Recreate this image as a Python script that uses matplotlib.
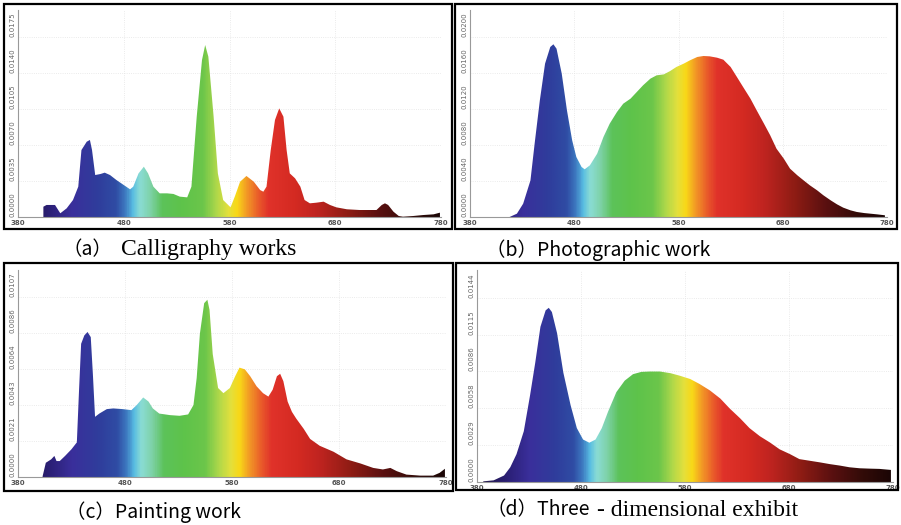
import numpy as np
import matplotlib
matplotlib.use("Agg")
import matplotlib.pyplot as plt
from matplotlib.colors import LinearSegmentedColormap
from matplotlib.patches import Rectangle

# --- data (wavelength nm, spectral power) ---
wl_a = [404, 407, 415, 420, 426, 432, 437, 440, 445, 448, 450, 453, 458, 462, 467, 473,
        480, 486, 489, 494, 499, 503, 508, 514, 521, 527, 533, 540, 544, 549, 554, 557,
        560, 565, 569, 574, 581, 585, 590, 596, 603, 609, 612, 615, 619, 623, 627, 631,
        634, 637, 642, 647, 651, 656, 662, 669, 675, 681, 691, 703, 713, 719, 724, 727,
        730, 735, 740, 744, 754, 763, 773, 779]
spd_a = [0.00100, 0.00117, 0.00117, 0.00036, 0.00084, 0.00165, 0.00295, 0.00651, 0.00732,
         0.00749, 0.00651, 0.00408, 0.00418, 0.00431, 0.00408, 0.00360, 0.00311, 0.00269,
         0.00295, 0.00424, 0.00489, 0.00424, 0.00295, 0.00230, 0.00230, 0.00224, 0.00198,
         0.00191, 0.00295, 0.00975, 0.01526, 0.01672, 0.01559, 0.00975, 0.00424, 0.00165,
         0.00094, 0.00198, 0.00343, 0.00399, 0.00343, 0.00262, 0.00246, 0.00295, 0.00651,
         0.00943, 0.01056, 0.00975, 0.00651, 0.00424, 0.00376, 0.00295, 0.00165, 0.00133,
         0.00139, 0.00149, 0.00117, 0.00094, 0.00075, 0.00068, 0.00068, 0.00068, 0.00117,
         0.00133, 0.00117, 0.00052, 0.00010, 0.00003, 0.00010, 0.00019, 0.00026, 0.00042]

wl_b = [418, 425, 431, 438, 442, 447, 452, 457, 460, 463, 468, 473, 478, 482, 487, 490,
        495, 502, 508, 514, 521, 527, 534, 540, 546, 553, 559, 566, 572, 578, 585, 591,
        598, 604, 610, 617, 623, 630, 636, 642, 649, 655, 662, 668, 674, 681, 687, 694,
        700, 706, 713, 719, 726, 732, 738, 745, 751, 758, 764, 770, 778]
spd_b = [0.00000, 0.00037, 0.00148, 0.00407, 0.00815, 0.01296, 0.01704, 0.01889, 0.01919,
         0.01870, 0.01593, 0.01185, 0.00852, 0.00667, 0.00556, 0.00530, 0.00574, 0.00704,
         0.00889, 0.01037, 0.01167, 0.01259, 0.01315, 0.01389, 0.01463, 0.01537, 0.01574,
         0.01585, 0.01622, 0.01667, 0.01704, 0.01741, 0.01778, 0.01789, 0.01785, 0.01770,
         0.01748, 0.01667, 0.01556, 0.01444, 0.01315, 0.01185, 0.01037, 0.00907, 0.00759,
         0.00648, 0.00537, 0.00463, 0.00407, 0.00352, 0.00296, 0.00241, 0.00185, 0.00141,
         0.00104, 0.00074, 0.00056, 0.00044, 0.00037, 0.00030, 0.00019]

wl_c = [403, 406, 411, 414, 416, 419, 424, 430, 435, 437, 439, 442, 445, 448, 450, 452,
        456, 463, 469, 478, 486, 491, 497, 502, 506, 512, 522, 531, 539, 544, 547, 550,
        554, 557, 559, 562, 567, 572, 578, 583, 587, 592, 597, 603, 609, 614, 618, 622,
        625, 628, 632, 636, 640, 647, 653, 662, 675, 687, 700, 712, 721, 728, 734, 743,
        756, 768, 774, 779]
spd_c = [0.00004, 0.00083, 0.00103, 0.00123, 0.00093, 0.00093, 0.00123, 0.00162, 0.00202,
         0.00499, 0.00777, 0.00826, 0.00846, 0.00816, 0.00598, 0.00351, 0.00370, 0.00396,
         0.00400, 0.00396, 0.00390, 0.00420, 0.00464, 0.00440, 0.00400, 0.00370, 0.00361,
         0.00357, 0.00365, 0.00420, 0.00578, 0.00836, 0.01014, 0.01034, 0.00975, 0.00717,
         0.00519, 0.00489, 0.00519, 0.00588, 0.00638, 0.00628, 0.00588, 0.00529, 0.00489,
         0.00469, 0.00509, 0.00588, 0.00602, 0.00559, 0.00440, 0.00380, 0.00341, 0.00281,
         0.00222, 0.00182, 0.00147, 0.00103, 0.00079, 0.00053, 0.00044, 0.00053, 0.00034,
         0.00014, 0.00008, 0.00008, 0.00024, 0.00048]

wl_d = [386, 396, 406, 412, 418, 425, 431, 436, 441, 446, 449, 452, 457, 463, 470, 476,
        482, 488, 494, 500, 506, 514, 522, 530, 538, 546, 556, 566, 575, 585, 594, 604,
        614, 623, 633, 642, 652, 662, 671, 681, 690, 700, 710, 719, 729, 738, 748, 758,
        767, 778]
spd_d = [0.00005, 0.00013, 0.00051, 0.00116, 0.00219, 0.00399, 0.00681, 0.00938, 0.01221,
         0.01350, 0.01370, 0.01337, 0.01170, 0.00861, 0.00604, 0.00424, 0.00334, 0.00309,
         0.00334, 0.00424, 0.00553, 0.00707, 0.00797, 0.00848, 0.00866, 0.00869, 0.00869,
         0.00856, 0.00836, 0.00810, 0.00771, 0.00720, 0.00656, 0.00578, 0.00501, 0.00424,
         0.00360, 0.00309, 0.00257, 0.00219, 0.00180, 0.00167, 0.00154, 0.00141, 0.00129,
         0.00116, 0.00108, 0.00105, 0.00103, 0.00095]

xticks = [380, 480, 580, 680, 780]
ylabels_a = ['0.0000', '0.0035', '0.0070', '0.0105', '0.0140', '0.0175']
ylabels_b = ['0.0000', '0.0040', '0.0080', '0.0120', '0.0160', '0.0200']
ylabels_c = ['0.0000', '0.0021', '0.0043', '0.0064', '0.0086', '0.0107']
ylabels_d = ['0.0000', '0.0029', '0.0058', '0.0086', '0.0115', '0.0144']

# spectrum colours for the fill (wavelength stop, colour)
spec_stops = [(380, '#1c1240'), (410, '#2c2078'), (430, '#3a2f9b'), (455, '#2f3d9c'),
              (472, '#2f4ca4'), (481, '#3d78c0'), (488, '#58bce2'), (495, '#8adcd4'),
              (505, '#7ed2a8'), (516, '#5cc25a'), (535, '#5ec34a'), (555, '#6cc64a'),
              (568, '#b0d84a'), (579, '#e4e03c'), (587, '#f8d818'), (597, '#f29626'),
              (607, '#ea5e2a'), (617, '#e0322a'), (642, '#d42a22'), (662, '#c02420'),
              (692, '#8e1c14'), (722, '#5a1010'), (752, '#320b08'), (780, '#1a0505')]

W, H = 901, 525
fig = plt.figure(figsize=(W / 100, H / 100), dpi=100)
cmap = LinearSegmentedColormap.from_list(
    'spec', [((w - 380) / 400, c) for w, c in spec_stops])


def px_axes(x0, y0, x1, y1):
    return fig.add_axes([x0 / W, 1 - y1 / H, (x1 - x0) / W, (y1 - y0) / H])


def spectrum_panel(box, wl, spd, ylabels):
    ax = px_axes(*box)
    step = float(ylabels[1])
    ytop = step * 5.75
    grad = np.linspace(380, 780, 800).reshape(1, -1)
    im = ax.imshow(grad, extent=[380, 780, 0, ytop], aspect='auto', cmap=cmap,
                   vmin=380, vmax=780, origin='lower', zorder=2)
    wl_full = [wl[0]] + list(wl) + [wl[-1]]
    spd_full = [0] + list(spd) + [0]
    poly = ax.fill(wl_full, spd_full, facecolor='none', edgecolor='none')[0]
    im.set_clip_path(poly)
    ax.set_xlim(380, 780)
    ax.set_ylim(0, ytop)
    ax.set_xticks(xticks)
    ax.set_xticklabels([str(t) for t in xticks], fontsize=5, color='#555555',
                       fontweight='bold')
    ax.set_yticks([step * i for i in range(6)])
    ax.set_yticklabels(ylabels, fontsize=5, color='#666666', rotation=90, va='bottom')
    ax.tick_params(length=0, pad=2)
    for s in ['top', 'right']:
        ax.spines[s].set_visible(False)
    for s in ['left', 'bottom']:
        ax.spines[s].set_color('#999999')
        ax.spines[s].set_linewidth(0.8)
    ax.grid(True, color='#e4e4e4', linestyle=':', linewidth=0.6, zorder=0)
    ax.set_axisbelow(True)
    return ax


spectrum_panel((18, 10, 441, 217), wl_a, spd_a, ylabels_a)
spectrum_panel((470, 10, 887, 217), wl_b, spd_b, ylabels_b)
spectrum_panel((18, 270, 446, 477), wl_c, spd_c, ylabels_c)
spectrum_panel((477, 270, 893, 482), wl_d, spd_d, ylabels_d)

# black frames around each panel
for x0, y0, x1, y1 in [(4, 4, 452, 229), (455, 4, 897, 229),
                       (4, 263, 453, 491), (456, 263, 898, 490)]:
    fig.patches.append(Rectangle((x0 / W, 1 - y1 / H), (x1 - x0) / W, (y1 - y0) / H,
                                 transform=fig.transFigure, fill=False,
                                 edgecolor='black', linewidth=1.6))

sans = ['Noto Sans CJK JP', 'DejaVu Sans']
serif = ['Liberation Serif', 'DejaVu Serif']


def cap(x, y, s, fam, size):
    fig.text(x / W, 1 - y / H, s, family=fam, fontsize=size, va='center', ha='left')


cap(62, 250, '（a）', sans, 14)
cap(121, 250, 'Calligraphy works', serif, 17)
cap(486, 250, '（b）Photographic work', sans, 14)
cap(66, 512, '（c）Painting work', sans, 14)
cap(486, 510, '（d）Three', sans, 14)
cap(597, 510, '- dimensional exhibit', serif, 17)

fig.savefig('out.png', dpi=100)
